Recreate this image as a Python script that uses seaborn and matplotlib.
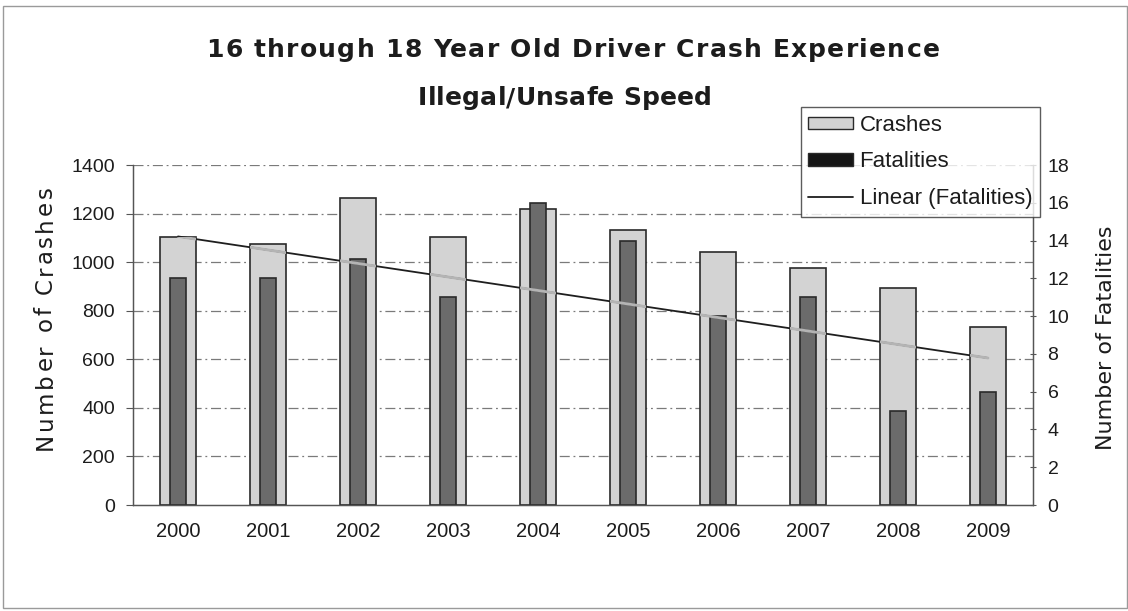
import numpy as np
import pandas as pd
import matplotlib
matplotlib.use("Agg")
import matplotlib.pyplot as plt
from matplotlib.lines import Line2D
from matplotlib.patches import Patch, Rectangle
import seaborn as sns

# Data
years = ["2000", "2001", "2002", "2003", "2004", "2005", "2006", "2007", "2008", "2009"]
crashes = [1104, 1074, 1265, 1102, 1218, 1132, 1040, 974, 894, 731]
fatalities = [12, 12, 13, 11, 16, 14, 10, 11, 5, 6]
crash_ticks = [0, 200, 400, 600, 800, 1000, 1200, 1400]
fatal_ticks = [0, 2, 4, 6, 8, 10, 12, 14, 16, 18]

df = pd.DataFrame({"Year": years, "Crashes": crashes, "Fatalities": fatalities})

sns.set_theme(style="white")
plt.rcParams["font.family"] = ["Liberation Sans", "DejaVu Sans"]

W, H = 1128, 611
fig = plt.figure(figsize=(W / 100, H / 100), dpi=100)
renderer = fig.canvas.get_renderer()
ax = fig.add_axes([133 / W, 1 - 505 / H, 900 / W, 340 / H])
ax2 = ax.twinx()

TEXT = "#1c1c1c"
WIDE = ["DejaVu Sans"]


def text_width(s, **kw):
    t = fig.text(0, 0, s, **kw)
    w = t.get_window_extent(renderer).width
    t.remove()
    return w


def tracked_text(s, center, base, length, vertical=False, **kw):
    """Draw s with even letter spacing so that it spans `length` pixels.

    Horizontal: centred on x=center with its baseline at y=base (pixels from top).
    Vertical: reads upward, centred on y=center, baseline at x=base.
    """
    natural = text_width(s, **kw)
    track = (length - natural) / max(len(s) - 1, 1)
    start = center - length / 2 if not vertical else center + length / 2
    for i, ch in enumerate(s):
        if ch == " ":
            continue
        end = text_width(s[:i + 1], **kw) + i * track
        if not vertical:
            fig.text((start + end) / W, 1 - base / H, ch, ha="right", va="baseline", **kw)
        else:
            fig.text(base / W, 1 - (start - end) / H, ch, ha="right", va="baseline",
                     rotation=90, rotation_mode="anchor", **kw)


crash_fill = "#d3d3d3"
fatal_fill = "#6b6b6b"
edge = "#2a2a2a"

sns.barplot(data=df, x="Year", y="Crashes", ax=ax, color=crash_fill, width=0.4,
            edgecolor=edge, linewidth=1.2, saturation=1, zorder=2)
sns.barplot(data=df, x="Year", y="Fatalities", ax=ax2, color=fatal_fill, width=0.17,
            edgecolor=edge, linewidth=1.2, saturation=1, zorder=2)

ax.set_ylim(0, 1400)
ax2.set_ylim(0, 18)
ax.set_xlim(-0.5, 9.5)
ax2.set_xlim(-0.5, 9.5)

# Gridlines on the crash axis
ax.set_yticks(crash_ticks)
for v in crash_ticks[1:]:
    ax.axhline(v, color="#7a7a7a", lw=0.9, ls=(0, (8, 3, 1.5, 3)), zorder=0)

# Linear trend of fatalities: dark over the background, pale where it crosses a bar
xs = np.arange(len(years))
slope, intercept = np.polyfit(xs, fatalities, 1)
trend_y = slope * xs + intercept
ax2.plot(xs, trend_y, color="#1e1e1e", lw=1.3, zorder=3)
for bar in ax.patches:
    seg, = ax2.plot(xs, trend_y, color="#b4b4b4", lw=2.0, zorder=4)
    seg.set_clip_path(bar)

# Axes styling
for a in (ax, ax2):
    a.spines["top"].set_visible(False)
    for side in ("left", "right", "bottom"):
        a.spines[side].set_color("#555555")
        a.spines[side].set_linewidth(0.9)

ax2.set_yticks(fatal_ticks)
ax.set_xticks(xs)
ax.set_xticklabels(years)
ax.set_xticks(np.arange(-0.5, 10, 1), minor=True)
ax.tick_params(axis="x", which="major", length=0, pad=12, labelsize=14.5, colors=TEXT)
ax.tick_params(axis="x", which="minor", length=6, width=0.8, color="#555555", direction="out")
ax.tick_params(axis="y", length=5, width=0.8, color="#555555", direction="out",
               left=True, labelsize=14, labelcolor=TEXT, pad=8)
ax2.tick_params(axis="y", length=5, width=0.8, color="#555555", direction="inout",
                right=True, labelsize=14, labelcolor=TEXT, pad=8)
ax.set_xlabel("")
ax.set_ylabel("")
ax2.set_ylabel("")

# Axis titles
tracked_text("Number of Crashes", center=318, base=52, length=264, vertical=True,
             fontsize=16.5, color=TEXT, family=WIDE)
fig.text(1112 / W, 1 - 338 / H, "Number of Fatalities", rotation=90, rotation_mode="anchor",
         ha="center", va="baseline", fontsize=16, color=TEXT, family=WIDE)

# Chart title
tracked_text("16 through 18 Year Old Driver Crash Experience", center=573, base=57,
             length=733, fontsize=18, fontweight="bold", color=TEXT, family=WIDE)
tracked_text("Illegal/Unsafe Speed", center=565, base=105, length=294,
             fontsize=18, fontweight="bold", color=TEXT, family=WIDE)

# Legend
handles = [
    Patch(facecolor=crash_fill, edgecolor=edge, linewidth=1.0, label="Crashes"),
    Patch(facecolor="#151515", edgecolor=edge, linewidth=1.0, label="Fatalities"),
    Line2D([0], [0], color="#1e1e1e", lw=1.3, label="Linear (Fatalities)"),
]
leg = ax2.legend(handles=handles, loc="upper right", bbox_to_anchor=(1040 / W, 1 - 107 / H),
                 bbox_transform=fig.transFigure, fontsize=16, frameon=True, fancybox=False,
                 edgecolor="#333333", borderpad=0.35, labelspacing=0.7, handlelength=2.0,
                 handleheight=0.5, handletextpad=0.3, borderaxespad=0)
for t in leg.get_texts():
    t.set_color(TEXT)
leg.get_frame().set_linewidth(1.0)
leg.set_zorder(10)

# Outer chart border
fig.patches.append(Rectangle((3 / W, 3 / H), 1 - 4 / W, 1 - 9 / H, transform=fig.transFigure,
                             fill=False, edgecolor="#9a9a9a", lw=1.0))

fig.savefig("out.png", dpi=100)
